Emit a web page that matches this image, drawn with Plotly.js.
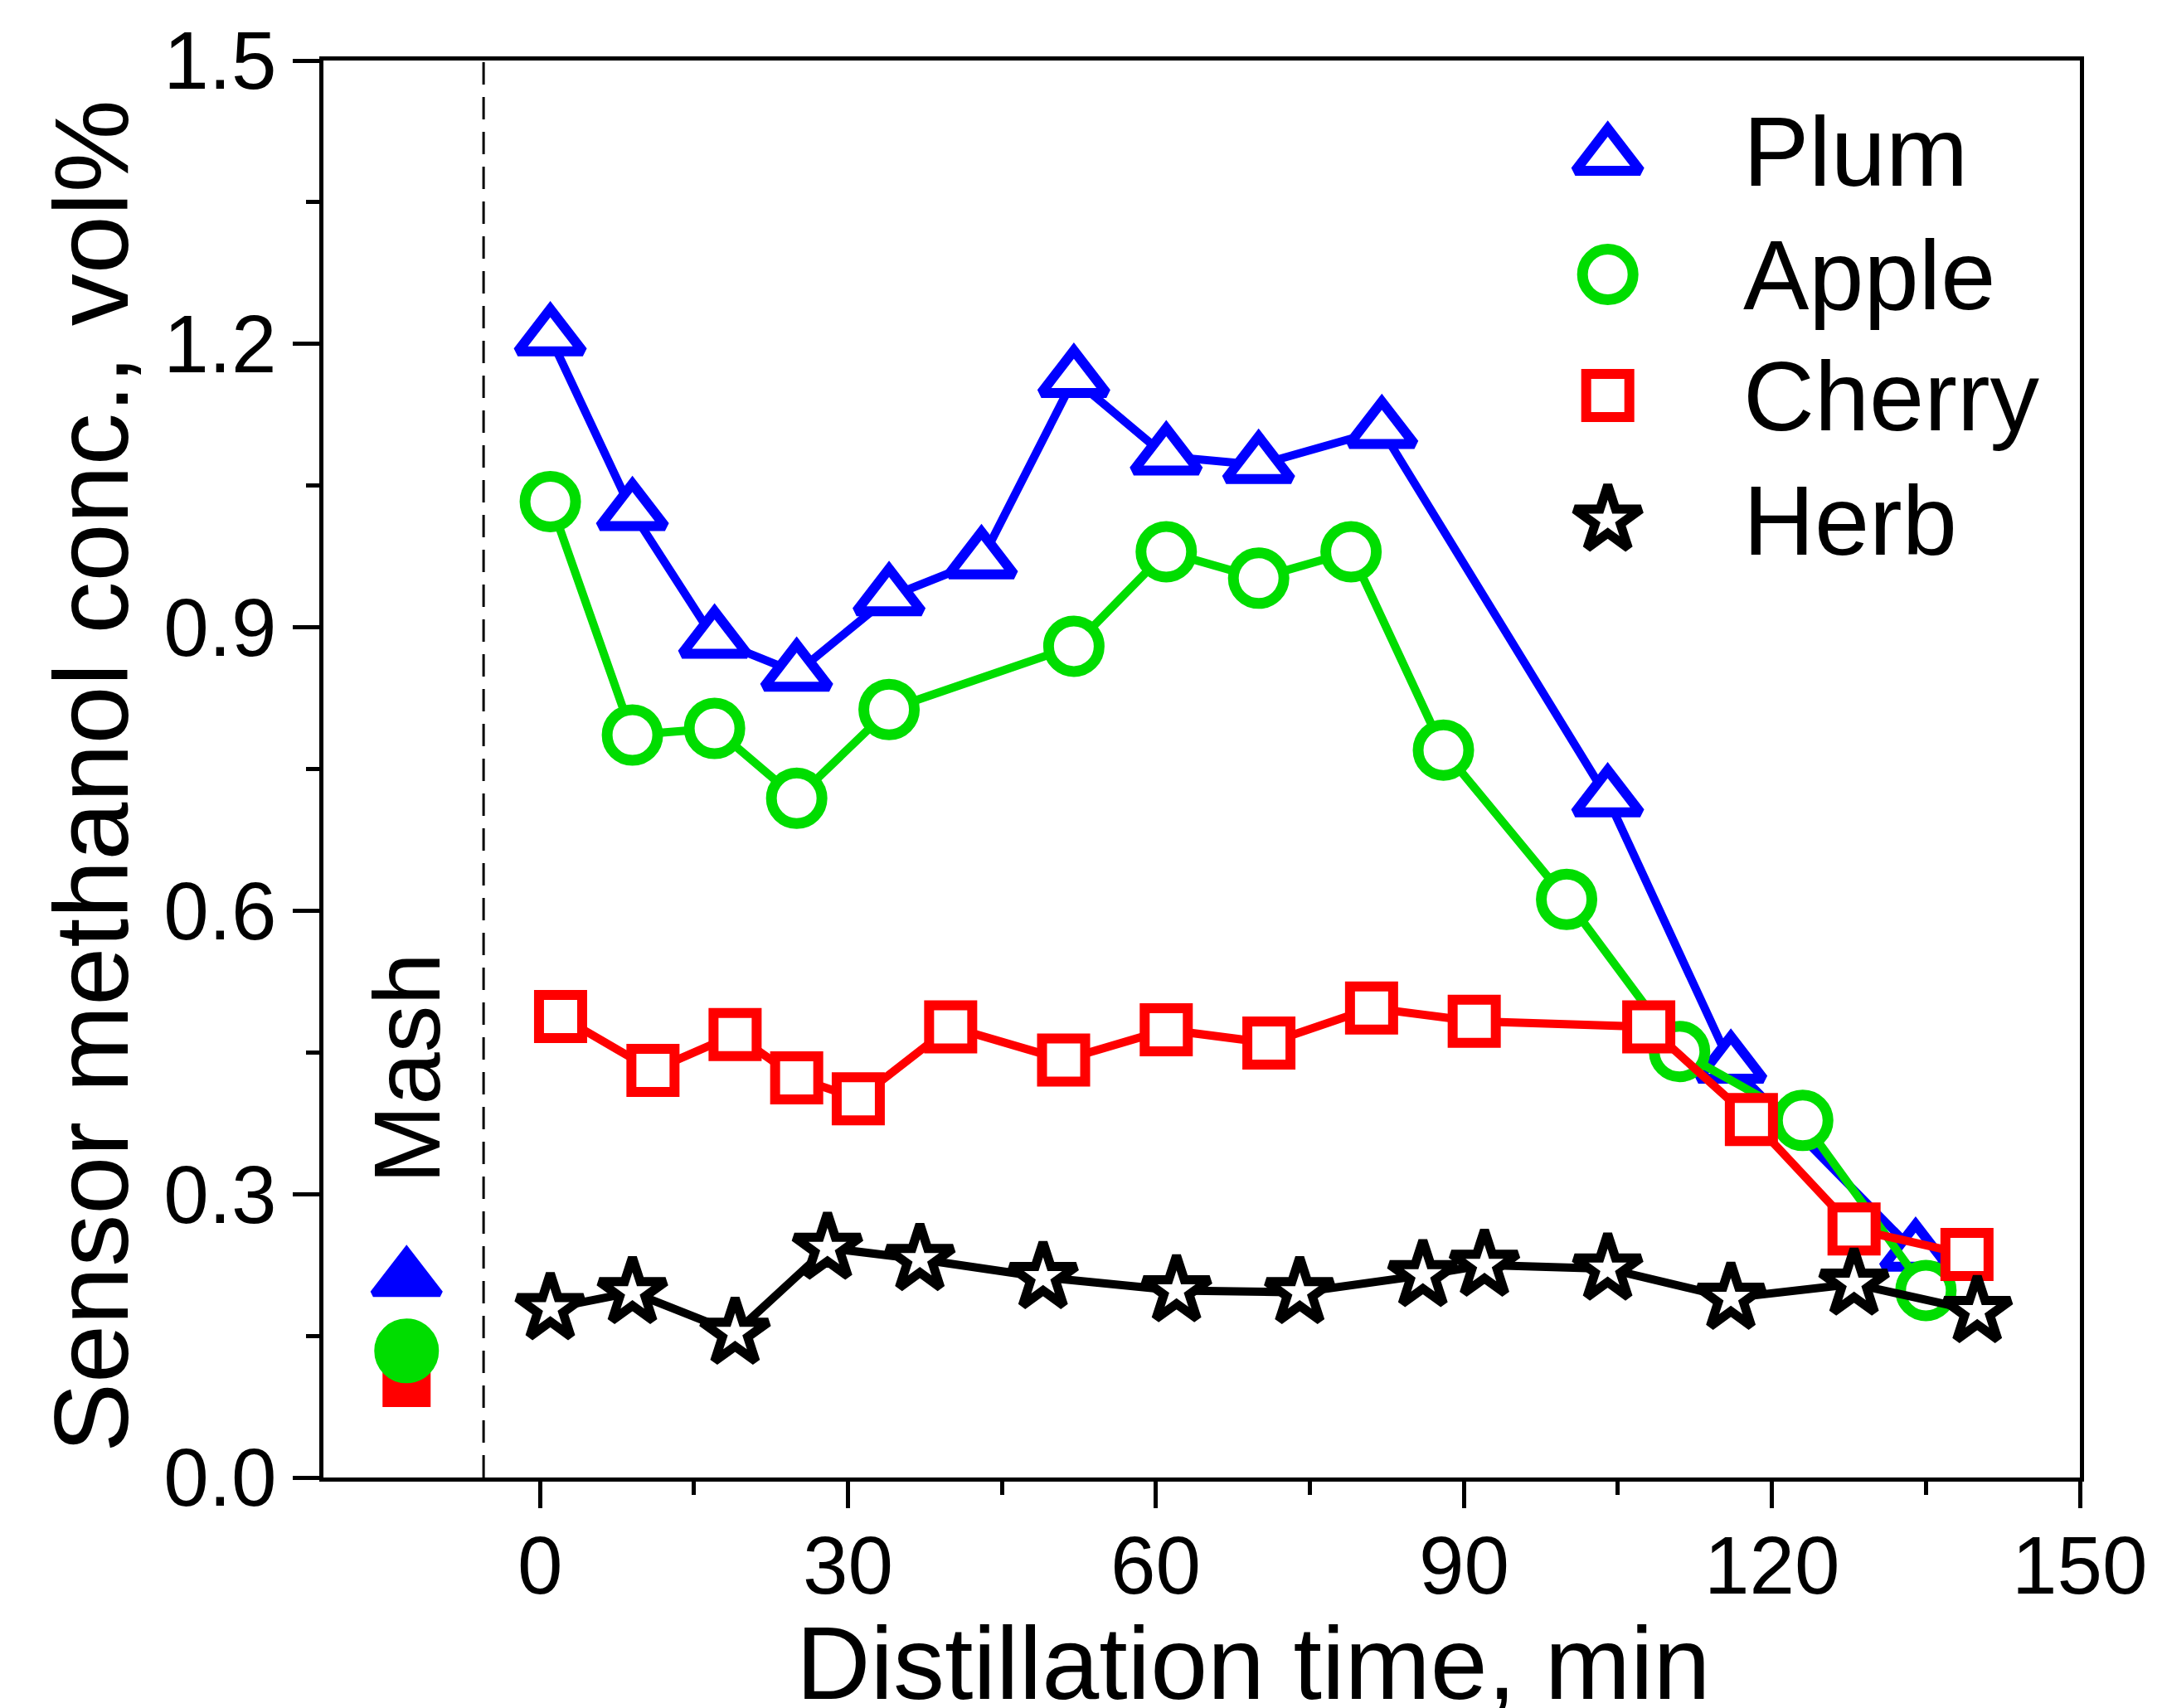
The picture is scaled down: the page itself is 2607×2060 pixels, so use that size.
<!DOCTYPE html>
<html>
<head>
<meta charset="utf-8">
<script src="https://cdn.plot.ly/plotly-3.0.1.min.js"></script>
<style>
html,body{margin:0;padding:0;background:#fff;}
#chart{width:2607px;height:2060px;}
</style>
</head>
<body>
<div id="chart"></div>
<script>
// ---- data ----
var plumTime   = [1, 9, 17, 25, 34, 43, 52, 61, 70, 82, 104, 116, 134];
var plumConc   = [1.207, 1.022, 0.887, 0.852, 0.932, 0.971, 1.163, 1.081, 1.072, 1.109, 0.719, 0.437, 0.238];

var appleTime  = [1, 9, 17, 25, 34, 52, 61, 70, 79, 88, 100, 111, 123, 135];
var appleConc  = [1.033, 0.786, 0.793, 0.719, 0.813, 0.880, 0.980, 0.952, 0.980, 0.770, 0.612, 0.451, 0.378, 0.198];

var cherryTime = [2, 11, 19, 25, 31, 40, 51, 61, 71, 81, 91, 108, 118, 128, 139];
var cherryConc = [0.488, 0.431, 0.469, 0.423, 0.401, 0.477, 0.442, 0.474, 0.460, 0.497, 0.483, 0.477, 0.379, 0.263, 0.236];

var herbTime   = [1, 9, 19, 28, 37, 49, 62, 74, 86, 92, 104, 116, 128, 140];
var herbConc   = [0.179, 0.196, 0.153, 0.243, 0.231, 0.212, 0.198, 0.196, 0.214, 0.225, 0.221, 0.190, 0.205, 0.176];

// mash values (drawn left of the dashed line)
var mashTime   = -13;
var mashNames  = ['Plum', 'Cherry', 'Apple'];
var mashConc   = [0.210, 0.100, 0.134];

var seriesNames = ['Plum', 'Apple', 'Cherry', 'Herb'];
var xTickVals  = [0, 30, 60, 90, 120, 150];
var xTickText  = ['0', '30', '60', '90', '120', '150'];
var xMinorVals = [15, 45, 75, 105, 135];
var yTickVals  = [0, 0.3, 0.6, 0.9, 1.2, 1.5];
var yTickText  = ['0.0', '0.3', '0.6', '0.9', '1.2', '1.5'];
var yMinorVals = [0.15, 0.45, 0.75, 1.05, 1.35];
var dividerTime = -5.5;

// ---- styles ----
var FONT = 'Liberation Sans, Arial, sans-serif';
var COLORS = {Plum: '#0000ff', Apple: '#00dd00', Cherry: '#ff0000', Herb: '#000000'};
var SYMBOLS = {Plum: 'triangle-up', Apple: 'circle', Cherry: 'square', Herb: 'star'};
var SIZES = {Plum: 68, Apple: 61, Cherry: 52, Herb: 60};
var MLW = {Plum: 12, Apple: 13, Cherry: 12, Herb: 11};
var MASH_SIZES = {Plum: 70, Apple: 70, Cherry: 50};
var LW = 10;

function seriesTrace(name, xs, ys) {
  return {
    type: 'scatter', mode: 'lines+markers', name: name,
    x: xs, y: ys, showlegend: false, cliponaxis: false,
    line: {color: COLORS[name], width: LW},
    marker: {symbol: SYMBOLS[name], size: SIZES[name], color: '#ffffff', opacity: 1,
             line: {color: COLORS[name], width: MLW[name]}}
  };
}

var traces = [
  seriesTrace('Plum', plumTime, plumConc),
  seriesTrace('Apple', appleTime, appleConc),
  seriesTrace('Cherry', cherryTime, cherryConc),
  seriesTrace('Herb', herbTime, herbConc)
];

// mash markers (filled)
traces.push({
  type: 'scatter', mode: 'markers', showlegend: false, cliponaxis: false,
  x: mashNames.map(function () { return mashTime; }),
  y: mashConc,
  marker: {
    opacity: 1,
    symbol: mashNames.map(function (n) { return SYMBOLS[n]; }),
    size: mashNames.map(function (n) { return MASH_SIZES[n]; }),
    color: mashNames.map(function (n) { return COLORS[n]; }),
    line: {color: mashNames.map(function (n) { return COLORS[n]; }), width: 8}
  }
});

// custom legend (markers on an overlay axis in paper-like units)
var legY = [0.9321, 0.849, 0.7636, 0.6758];
var legX = 0.7312;
traces.push({
  type: 'scatter', mode: 'markers', showlegend: false, xaxis: 'x2', yaxis: 'y2',
  hoverinfo: 'skip', cliponaxis: false,
  x: seriesNames.map(function () { return legX; }),
  y: legY,
  marker: {
    opacity: 1,
    symbol: seriesNames.map(function (n) { return SYMBOLS[n]; }),
    size: seriesNames.map(function (n) { return SIZES[n]; }),
    color: '#ffffff',
    line: {color: seriesNames.map(function (n) { return COLORS[n]; }),
           width: seriesNames.map(function (n) { return MLW[n]; })}
  }
});

var annotations = [];
seriesNames.forEach(function (n, i) {
  annotations.push({xref: 'paper', yref: 'paper', x: 0.8074, y: legY[i] + (i === 0 ? 0.004 : 0),
    xanchor: 'left', yanchor: 'middle', showarrow: false, text: n,
    font: {family: FONT, size: 119, color: '#000'}});
});
// x tick labels placed at the axis' own tick values
xTickVals.forEach(function (v, i) {
  annotations.push({xref: 'x', yref: 'paper', x: v, y: -0.0285,
    xanchor: 'center', yanchor: 'top', showarrow: false, text: xTickText[i],
    font: {family: FONT, size: 98, color: '#000'}});
});
annotations.push({xref: 'paper', yref: 'paper', x: 0.0474, y: 0.2888, textangle: -90,
  xanchor: 'center', yanchor: 'middle', showarrow: false, text: 'Mash',
  font: {family: FONT, size: 114, color: '#000'}});
annotations.push({xref: 'paper', yref: 'paper', x: 0.5293, y: -0.1310,
  xanchor: 'center', yanchor: 'middle', showarrow: false, text: 'Distillation time, min',
  font: {family: FONT, size: 124, color: '#000'}});
annotations.push({xref: 'paper', yref: 'paper', x: -0.1322, y: 0.4950, textangle: -90,
  xanchor: 'center', yanchor: 'middle', showarrow: false, text: 'Sensor methanol conc., vol%',
  font: {family: FONT, size: 126, color: '#000'}});

var layout = {
  width: 2607, height: 2060,
  margin: {l: 390, r: 99, t: 73, b: 278, pad: 0},
  paper_bgcolor: '#ffffff', plot_bgcolor: '#ffffff',
  showlegend: false,
  font: {family: FONT, color: '#000'},
  xaxis: {
    range: [-21.1, 150], tickvals: xTickVals, ticktext: xTickText, showticklabels: false,
    showline: true, mirror: true, linecolor: '#000', linewidth: 5,
    ticks: 'outside', ticklen: 32, tickwidth: 5, tickcolor: '#000',
    showgrid: false, zeroline: false,
    minor: {tickvals: xMinorVals, ticks: 'outside', ticklen: 16, tickwidth: 5, tickcolor: '#000', showgrid: false}
  },
  yaxis: {
    range: [0, 1.5], tickvals: yTickVals, ticktext: yTickText,
    showline: true, mirror: true, linecolor: '#000', linewidth: 5,
    ticks: 'outside', ticklen: 32, tickwidth: 5, tickcolor: '#000',
    showgrid: false, zeroline: false,
    tickfont: {family: FONT, size: 98, color: '#000'},
    minor: {tickvals: yMinorVals, ticks: 'outside', ticklen: 16, tickwidth: 5, tickcolor: '#000', showgrid: false}
  },
  xaxis2: {overlaying: 'x', range: [0, 1], visible: false, fixedrange: true},
  yaxis2: {overlaying: 'y', range: [0, 1], visible: false, fixedrange: true},
  shapes: [{
    type: 'line', xref: 'x', yref: 'paper', x0: dividerTime, x1: dividerTime, y0: 0, y1: 1,
    line: {color: '#000', width: 3, dash: '27px,15px'}
  }],
  annotations: annotations
};

Plotly.newPlot('chart', traces, layout, {staticPlot: true, displayModeBar: false});
</script>
</body>
</html>
